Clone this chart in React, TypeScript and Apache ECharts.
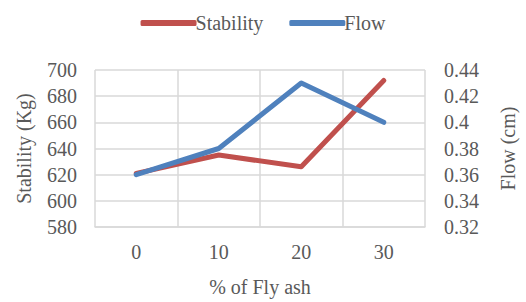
import React, { useEffect, useRef } from "react";
import * as echarts from "echarts";

const categories = ["0", "10", "20", "30"];
const stability = [621, 635, 626, 692];
const flow = [0.36, 0.38, 0.43, 0.4];

const FONT = "Liberation Serif";
const TXT = "#595959";
const FS = 20;

export default function App() {
  const ref = useRef<HTMLDivElement>(null);
  useEffect(() => {
    const chart = echarts.init(ref.current!, null, { renderer: "svg" });
    chart.setOption({
      animation: false,
      textStyle: { fontFamily: FONT, color: TXT },
      legend: {
        top: 8,
        left: "center",
        itemWidth: 56,
        itemHeight: 6,
        itemGap: 26,
        icon: "roundRect",
        textStyle: { fontFamily: FONT, fontSize: FS, color: TXT, padding: [0, 0, 0, -6] },
        data: ["Stability", "Flow"],
      },
      grid: { left: 95, right: 86, top: 70, bottom: 69 },
      xAxis: {
        type: "category",
        data: categories,
        boundaryGap: true,
        name: "% of Fly ash",
        nameLocation: "middle",
        nameGap: 50,
        nameTextStyle: { fontFamily: FONT, fontSize: FS, color: TXT },
        axisLine: { show: true, lineStyle: { color: "#d9d9d9", width: 1.5 } },
        axisTick: { show: false },
        axisLabel: { fontFamily: FONT, fontSize: FS, color: TXT, margin: 15 },
        splitLine: { show: true, lineStyle: { color: "#d9d9d9", width: 1.5 } },
      },
      yAxis: [
        {
          type: "value",
          min: 580,
          max: 700,
          interval: 20,
          name: "Stability (Kg)",
          nameLocation: "middle",
          nameRotate: 90,
          nameGap: 61,
          nameTextStyle: { fontFamily: FONT, fontSize: FS, color: TXT },
          axisLine: { show: false },
          axisTick: { show: false },
          axisLabel: { fontFamily: FONT, fontSize: FS, color: TXT, margin: 18 },
          splitLine: { show: true, lineStyle: { color: "#d9d9d9", width: 1.5 } },
        },
        {
          type: "value",
          min: 0.32,
          max: 0.44,
          interval: 0.02,
          name: "Flow (cm)",
          nameLocation: "middle",
          nameRotate: 90,
          nameGap: 73,
          nameTextStyle: { fontFamily: FONT, fontSize: FS, color: TXT },
          axisLine: { show: false },
          axisTick: { show: false },
          axisLabel: { fontFamily: FONT, fontSize: FS, color: TXT, margin: 19 },
          splitLine: { show: false },
        },
      ],
      series: [
        {
          name: "Stability",
          type: "line",
          yAxisIndex: 0,
          data: stability,
          symbol: "none",
          color: "#C0504D",
          lineStyle: { width: 5, color: "#C0504D", cap: "round", join: "round" },
        },
        {
          name: "Flow",
          type: "line",
          yAxisIndex: 1,
          data: flow,
          symbol: "none",
          color: "#4F81BD",
          lineStyle: { width: 5, color: "#4F81BD", cap: "round", join: "round" },
        },
      ],
    });
    return () => chart.dispose();
  }, []);
  return <div ref={ref} style={{ width: 526, height: 302, position: "absolute", left: 0, top: 0 }} />;
}
